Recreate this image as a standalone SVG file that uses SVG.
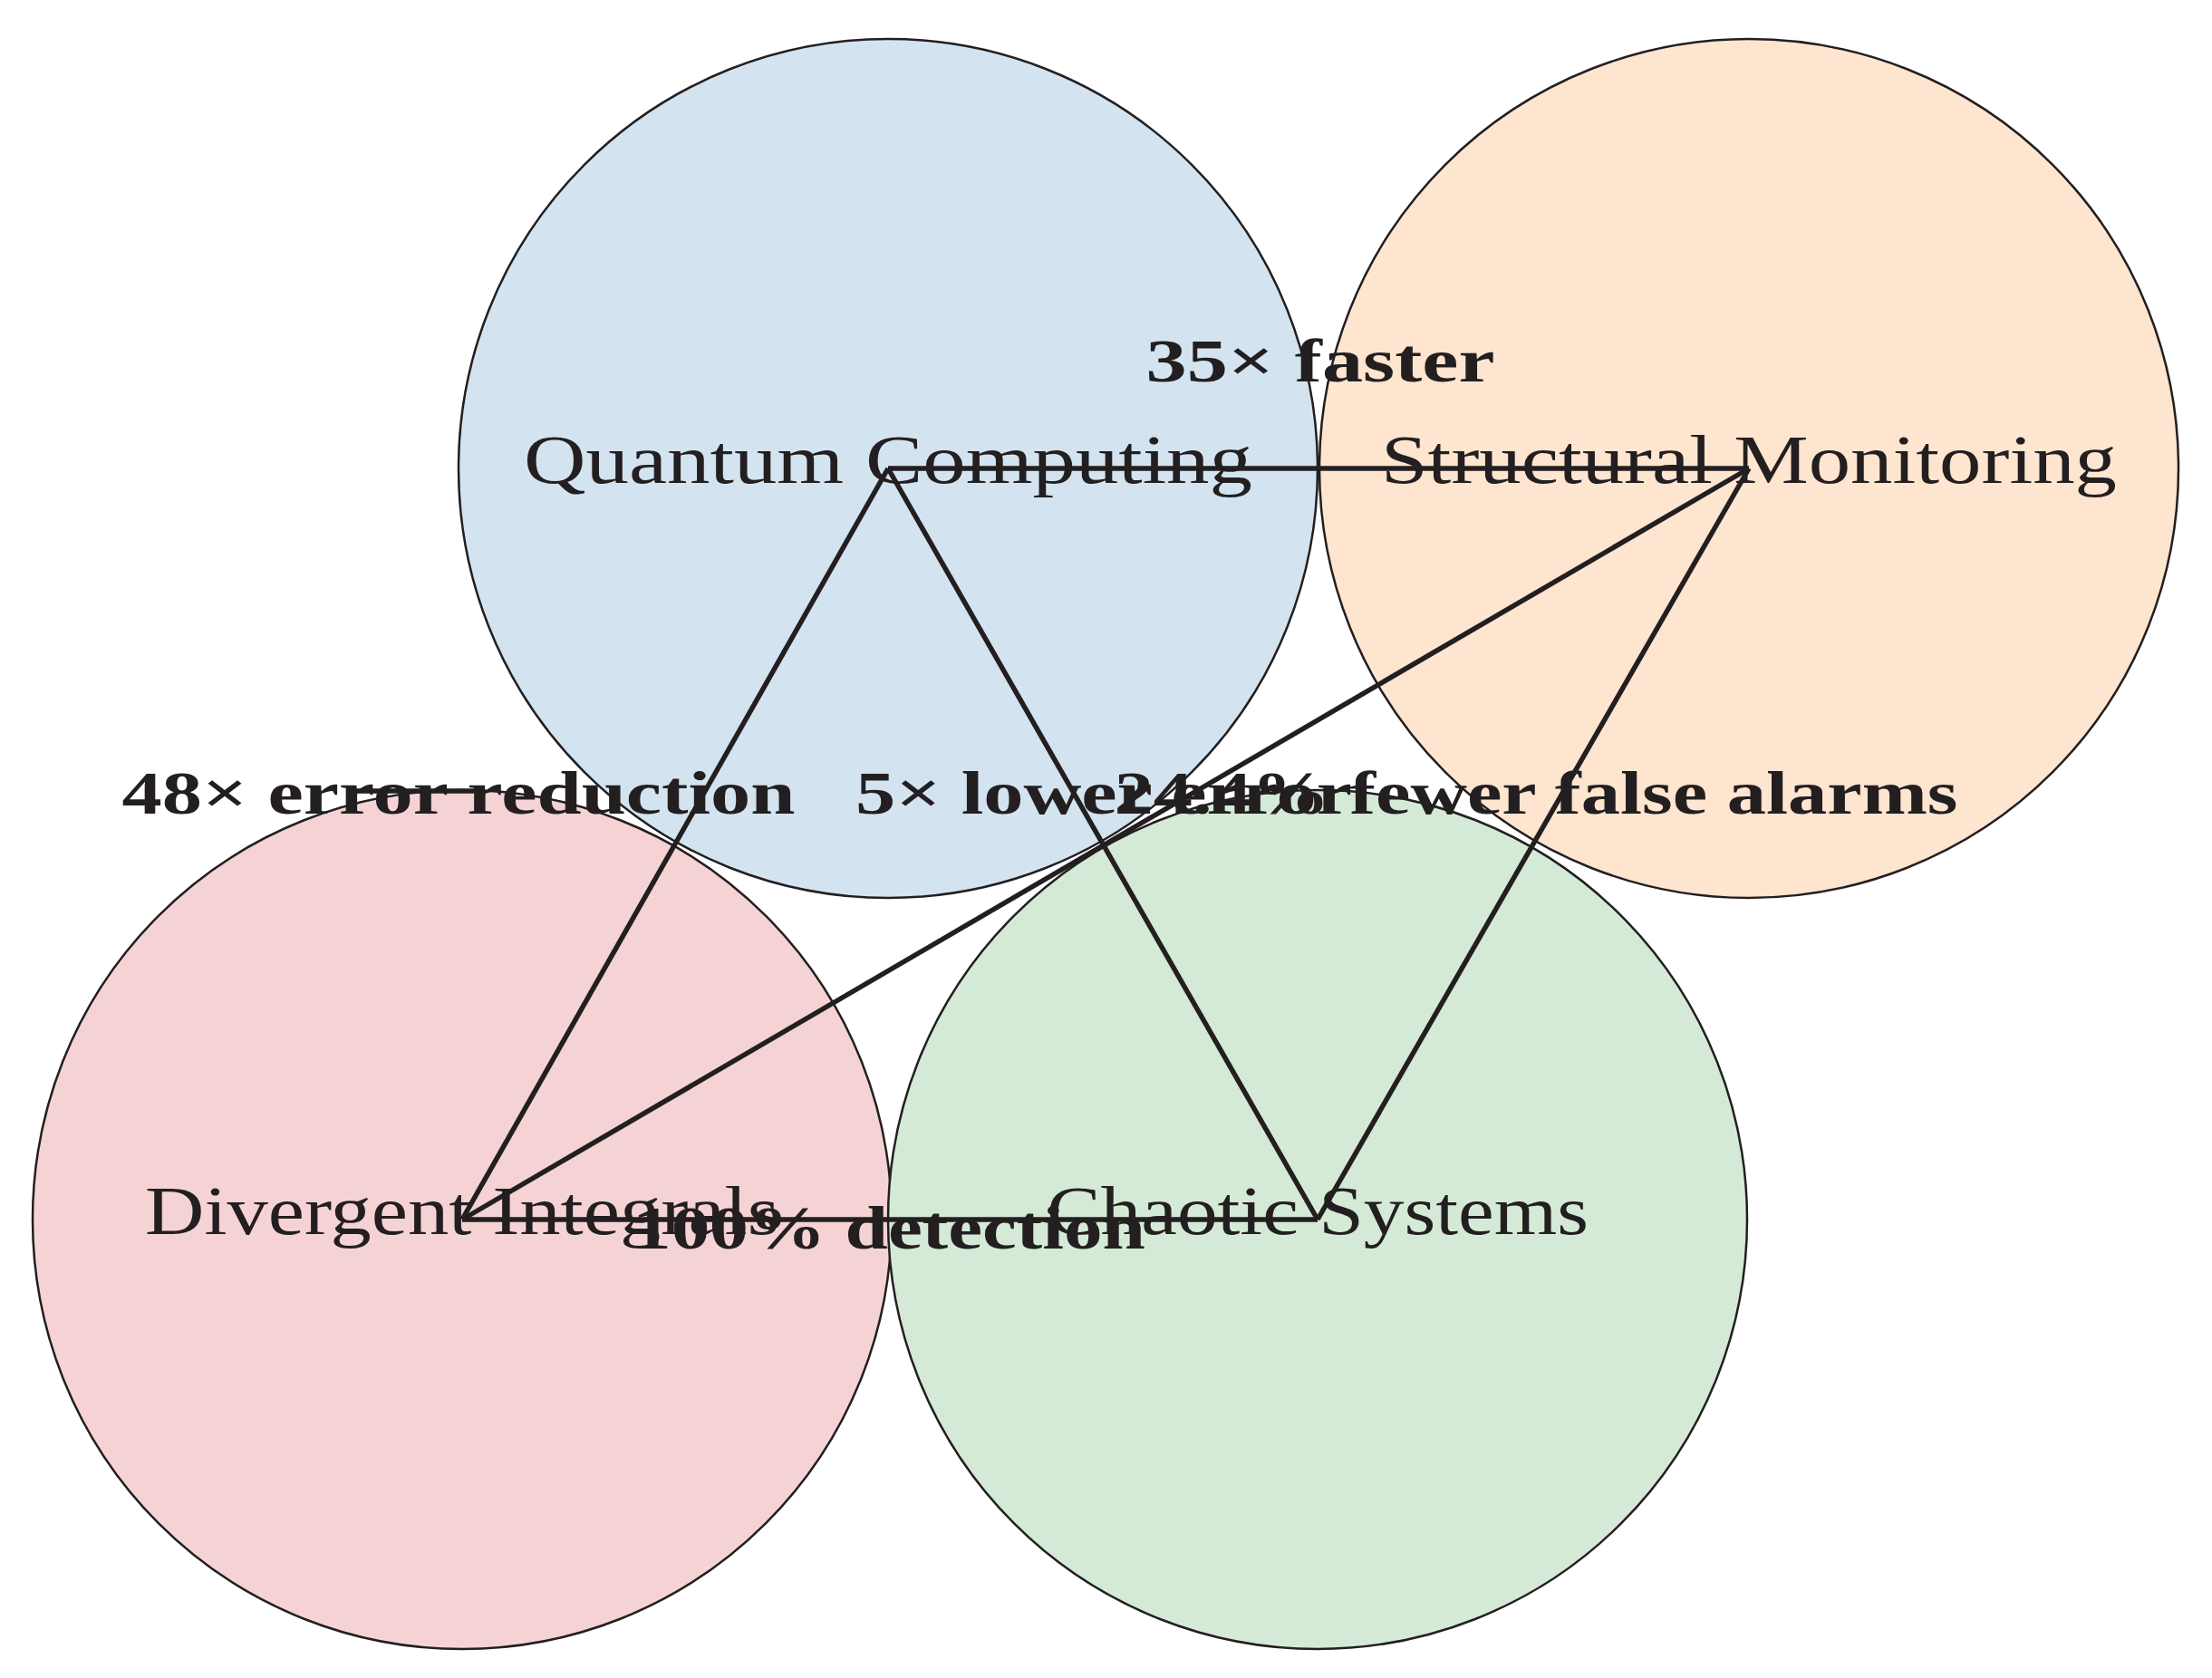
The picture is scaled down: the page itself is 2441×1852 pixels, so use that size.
<svg xmlns="http://www.w3.org/2000/svg" width="2441" height="1852" viewBox="0 0 2441 1852">
<style>
.n{stroke:#231f20;stroke-width:2.5}
.t{font-family:"Liberation Serif",serif;font-size:76px;fill:#231f20;text-anchor:middle}
.e{stroke:#231f20;stroke-width:5.5;fill:none;stroke-linejoin:round}
.l{font-family:"Liberation Serif",serif;font-size:68px;font-weight:bold;fill:#231f20;text-anchor:middle}
</style>
<rect width="2441" height="1852" fill="#fff"/>
<g transform="translate(-6,-7)">
<g id="node-qc"><circle class="n" cx="986" cy="524" r="474" fill="#d3e4f0"/></g>
<g id="node-sm"><circle class="n" cx="1936" cy="524" r="474" fill="#fde5cf"/></g>
<g id="node-di"><circle class="n" cx="516" cy="1353" r="474" fill="#f5d3d4"/></g>
<g id="node-cs"><circle class="n" cx="1460" cy="1353" r="474" fill="#d5ead6"/></g>
<g id="node-labels">
<text class="t" x="986" y="540" textLength="804" lengthAdjust="spacingAndGlyphs">Quantum Computing</text>
<text class="t" x="1936" y="540" textLength="812" lengthAdjust="spacingAndGlyphs">Structural Monitoring</text>
<text class="t" x="516" y="1369" textLength="700" lengthAdjust="spacingAndGlyphs">Divergent Integrals</text>
<text class="t" x="1460" y="1369" textLength="598" lengthAdjust="spacingAndGlyphs">Chaotic Systems</text>
</g>
<g id="connectors">
<path class="e" d="M986 524 L1936 524"/>
<path class="e" d="M986 524 L1460 1353"/>
<path class="e" d="M986 524 L516 1353"/>
<path class="e" d="M1936 524 L516 1353"/>
<path class="e" d="M1936 524 L1460 1353"/>
<path class="e" d="M516 1353 L1460 1353"/>
<path class="e" d="M390 880 L540 880"/>
</g>
<g id="edge-labels">
<text class="l" x="1463" y="428" textLength="385" lengthAdjust="spacingAndGlyphs">35× faster</text>
<text class="l" x="512" y="905" textLength="743" lengthAdjust="spacingAndGlyphs">48× error reduction</text>
<text class="l" x="1224" y="905" textLength="548" lengthAdjust="spacingAndGlyphs">5× lower error</text>
<text class="l" x="1701" y="905" textLength="931" lengthAdjust="spacingAndGlyphs">24.4% fewer false alarms</text>
<text class="l" x="987" y="1385" textLength="566" lengthAdjust="spacingAndGlyphs">100% detection</text>
</g>
</g>
</svg>
